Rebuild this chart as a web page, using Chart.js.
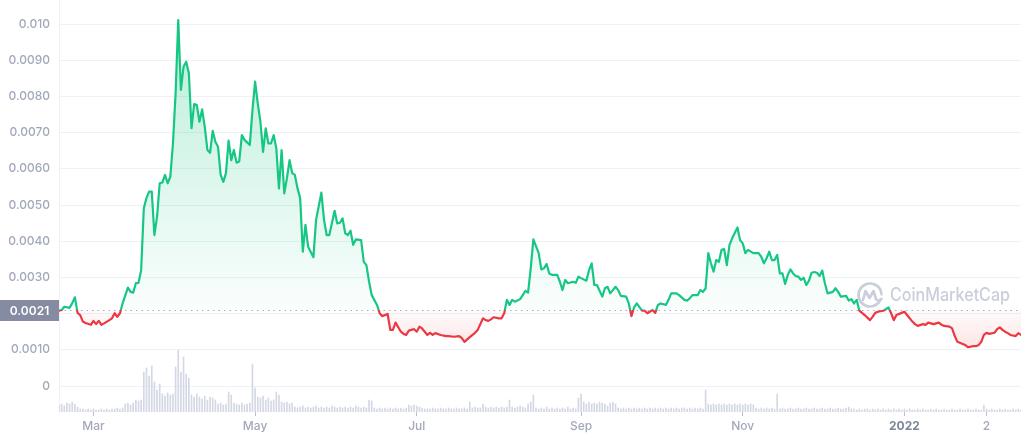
<!DOCTYPE html>
<html>
<head>
<meta charset="utf-8">
<script src="https://cdn.jsdelivr.net/npm/chart.js@4.4.0/dist/chart.umd.min.js"></script>
<style>
  html, body { margin: 0; padding: 0; background: #fff; }
  #wrap { width: 1021px; height: 440px; }
</style>
</head>
<body>
<div id="wrap"><canvas id="priceChart"></canvas></div>
<script>
// days counted from 2021-02-16
const days = [
  0, 1, 2, 4, 5, 6, 7, 8, 9, 10, 12, 13, 14, 15, 16, 17, 19, 20, 21, 22,
  23, 24, 26, 27, 28, 29, 30, 31, 32, 33, 34, 35, 36, 37, 38, 39, 40, 41, 42, 43,
  44, 45, 46, 47, 48, 49, 50, 51, 52, 53, 54, 55, 56, 57, 58, 59, 60, 61, 62, 63,
  64, 65, 66, 67, 68, 69, 70, 72, 73, 74, 75, 76, 77, 78, 79, 80, 81, 82, 83, 84,
  85, 86, 87, 88, 89, 90, 91, 92, 93, 94, 96, 97, 99, 100, 101, 102, 104, 105, 106, 107,
  108, 109, 110, 111, 112, 114, 115, 116, 117, 118, 120, 121, 122, 124, 125, 126, 127, 129, 130, 131,
  132, 134, 135, 136, 137, 139, 140, 141, 142, 144, 146, 147, 149, 151, 152, 153, 155, 157, 158, 160,
  161, 162, 163, 164, 166, 167, 168, 169, 170, 171, 172, 174, 175, 176, 177, 178, 179, 181, 182, 183,
  184, 185, 186, 188, 189, 190, 191, 192, 194, 195, 196, 197, 199, 200, 201, 202, 203, 205, 206, 207,
  208, 210, 211, 212, 214, 215, 216, 217, 218, 220, 221, 222, 224, 225, 226, 227, 229, 230, 231, 233,
  234, 236, 237, 238, 239, 241, 242, 243, 244, 245, 246, 247, 248, 249, 250, 251, 252, 253, 254, 256,
  257, 258, 259, 260, 262, 264, 265, 266, 267, 268, 269, 270, 271, 272, 273, 274, 275, 276, 277, 278,
  279, 280, 281, 282, 283, 284, 285, 286, 287, 288, 289, 290, 292, 293, 294, 295, 297, 298, 299, 300,
  301, 302, 303, 304, 306, 307, 308, 309, 311, 312, 313, 314, 315, 316, 318, 319, 320, 322, 323, 324,
  326, 327, 328, 330, 331, 332, 333, 334, 336, 337, 338, 339, 341, 342, 343, 345, 346, 347, 348, 349,
  350, 351, 353, 354, 355, 356, 357, 358, 359, 361, 362, 363
];

const prices = [
  0.00208, 0.00210, 0.00219, 0.00216, 0.00229, 0.00245, 0.00202, 0.00196, 0.00178, 0.00174, 0.00169, 0.00180, 0.00171, 0.00180, 0.00169, 0.00173, 0.00182, 0.00187, 0.00201, 0.00191,
  0.00201, 0.00228, 0.00272, 0.00260, 0.00258, 0.00284, 0.00285, 0.00320, 0.00491, 0.00519, 0.00537, 0.00537, 0.00417, 0.00468, 0.00560, 0.00562, 0.00583, 0.00560, 0.00578, 0.00670,
  0.00809, 0.01011, 0.00818, 0.00882, 0.00896, 0.00864, 0.00712, 0.00779, 0.00776, 0.00730, 0.00764, 0.00716, 0.00652, 0.00644, 0.00705, 0.00675, 0.00661, 0.00583, 0.00564, 0.00588,
  0.00678, 0.00624, 0.00652, 0.00617, 0.00620, 0.00693, 0.00680, 0.00666, 0.00762, 0.00841, 0.00781, 0.00730, 0.00647, 0.00712, 0.00670, 0.00670, 0.00693, 0.00657, 0.00546, 0.00652,
  0.00532, 0.00574, 0.00624, 0.00588, 0.00583, 0.00546, 0.00519, 0.00371, 0.00445, 0.00385, 0.00356, 0.00459, 0.00534, 0.00459, 0.00417, 0.00417, 0.00484, 0.00449, 0.00451, 0.00463,
  0.00422, 0.00417, 0.00429, 0.00390, 0.00405, 0.00403, 0.00343, 0.00334, 0.00288, 0.00251, 0.00224, 0.00201, 0.00193, 0.00199, 0.00155, 0.00155, 0.00175, 0.00150, 0.00144, 0.00141,
  0.00153, 0.00157, 0.00150, 0.00164, 0.00159, 0.00141, 0.00147, 0.00141, 0.00146, 0.00141, 0.00138, 0.00138, 0.00136, 0.00138, 0.00132, 0.00122, 0.00135, 0.00147, 0.00155, 0.00187,
  0.00182, 0.00180, 0.00184, 0.00190, 0.00187, 0.00187, 0.00201, 0.00238, 0.00224, 0.00238, 0.00233, 0.00240, 0.00251, 0.00263, 0.00258, 0.00325, 0.00405, 0.00367, 0.00322, 0.00325,
  0.00337, 0.00311, 0.00307, 0.00307, 0.00288, 0.00265, 0.00293, 0.00284, 0.00288, 0.00285, 0.00302, 0.00298, 0.00291, 0.00320, 0.00339, 0.00279, 0.00279, 0.00247, 0.00270, 0.00274,
  0.00256, 0.00274, 0.00265, 0.00249, 0.00247, 0.00228, 0.00193, 0.00217, 0.00228, 0.00208, 0.00208, 0.00201, 0.00210, 0.00202, 0.00224, 0.00228, 0.00224, 0.00238, 0.00256, 0.00256,
  0.00251, 0.00238, 0.00236, 0.00242, 0.00251, 0.00251, 0.00265, 0.00260, 0.00270, 0.00367, 0.00339, 0.00316, 0.00348, 0.00343, 0.00376, 0.00378, 0.00334, 0.00390, 0.00408, 0.00438,
  0.00403, 0.00394, 0.00367, 0.00376, 0.00367, 0.00367, 0.00357, 0.00339, 0.00353, 0.00371, 0.00348, 0.00348, 0.00362, 0.00311, 0.00311, 0.00282, 0.00307, 0.00322, 0.00311, 0.00304,
  0.00302, 0.00293, 0.00299, 0.00279, 0.00291, 0.00313, 0.00315, 0.00313, 0.00304, 0.00319, 0.00284, 0.00256, 0.00260, 0.00270, 0.00260, 0.00247, 0.00249, 0.00236, 0.00240, 0.00228,
  0.00238, 0.00208, 0.00202, 0.00196, 0.00182, 0.00191, 0.00202, 0.00205, 0.00208, 0.00212, 0.00217, 0.00201, 0.00182, 0.00196, 0.00202, 0.00205, 0.00196, 0.00178, 0.00171, 0.00166,
  0.00171, 0.00169, 0.00175, 0.00171, 0.00173, 0.00175, 0.00169, 0.00166, 0.00164, 0.00159, 0.00138, 0.00122, 0.00116, 0.00113, 0.00107, 0.00110, 0.00110, 0.00113, 0.00122, 0.00141,
  0.00147, 0.00144, 0.00147, 0.00157, 0.00162, 0.00155, 0.00150, 0.00146, 0.00141, 0.00138, 0.00146, 0.00141
];

// one volume bar per day, day 0 .. 363
const volumes = [
  7, 8, 6, 9, 8, 10, 8, 5, 3, 3,
  2, 3, 2, 3, 2, 2, 3, 2, 3, 2,
  3, 3, 4, 3, 4, 8, 9, 7, 9, 12,
  11, 12, 40, 44, 36, 46, 30, 22, 28, 18,
  16, 19, 17, 18, 45, 62, 40, 55, 38, 34,
  17, 15, 18, 15, 13, 16, 12, 15, 14, 12,
  8, 9, 7, 8, 20, 17, 9, 8, 7, 9,
  7, 8, 9, 48, 24, 15, 14, 16, 12, 14,
  11, 12, 20, 17, 10, 9, 10, 8, 9, 5,
  4, 5, 6, 4, 5, 4, 5, 6, 4, 5,
  4, 5, 4, 6, 5, 4, 5, 4, 5, 4,
  5, 4, 6, 5, 4, 5, 4, 12, 11, 4,
  3, 4, 3, 4, 3, 4, 3, 4, 3, 4,
  3, 4, 7, 6, 7, 6, 5, 4, 3, 3,
  3, 4, 3, 3, 4, 3, 3, 4, 3, 3,
  4, 3, 3, 4, 3, 10, 4, 5, 4, 4,
  8, 5, 4, 5, 4, 5, 4, 5, 4, 5,
  12, 5, 4, 5, 6, 5, 4, 8, 10, 17,
  4, 3, 4, 3, 5, 3, 4, 3, 4, 3,
  4, 3, 5, 3, 4, 3, 14, 18, 10, 8,
  10, 8, 9, 8, 10, 9, 8, 6, 9, 10,
  8, 4, 3, 4, 3, 4, 3, 4, 3, 4,
  3, 4, 3, 4, 3, 4, 3, 4, 3, 4,
  3, 4, 3, 4, 3, 4, 4, 3, 4, 3,
  4, 3, 4, 3, 22, 8, 7, 8, 7, 8,
  7, 8, 7, 8, 7, 8, 7, 8, 7, 8,
  7, 8, 7, 4, 3, 4, 3, 4, 3, 4,
  3, 18, 3, 4, 3, 3, 4, 3, 3, 4,
  3, 3, 4, 3, 3, 4, 3, 3, 4, 3,
  3, 4, 3, 3, 4, 3, 3, 4, 5, 3,
  3, 2, 3, 2, 3, 3, 2, 3, 2, 3,
  2, 3, 2, 3, 2, 3, 2, 3, 2, 3,
  2, 3, 2, 2, 3, 2, 3, 2, 2, 3,
  2, 3, 2, 2, 3, 2, 2, 3, 2, 2,
  3, 2, 2, 3, 2, 2, 3, 2, 2, 7,
  3, 2, 3, 2, 2, 3, 2, 3, 2, 2,
  3, 2, 3, 2
];

const tickDays = [13, 74, 135, 197, 258, 319, 350];
const tickLabels = ['Mar', 'May', 'Jul', 'Sep', 'Nov', '2022', '2'];
const priceTicks = [0, 0.001, 0.002, 0.003, 0.004, 0.005, 0.006, 0.007, 0.008, 0.009, 0.010];
const openPrice = 0.0021;
const openLabel = '0.0021';

const GREEN = '#16c784';
const RED = '#ea3943';

function splitLine(chart) {
  const area = chart.chartArea;
  if (!area) return GREEN;
  const y = chart.scales.y.getPixelForValue(openPrice);
  const r = Math.min(Math.max((y - area.top) / (area.bottom - area.top), 0), 1);
  const g = chart.ctx.createLinearGradient(0, area.top, 0, area.bottom);
  g.addColorStop(0, GREEN);
  g.addColorStop(r, GREEN);
  g.addColorStop(r, RED);
  g.addColorStop(1, RED);
  return g;
}

function upFill(chart) {
  const area = chart.chartArea;
  if (!area) return 'rgba(22,199,132,0.1)';
  const y = chart.scales.y.getPixelForValue(openPrice);
  const g = chart.ctx.createLinearGradient(0, area.top, 0, y);
  g.addColorStop(0, 'rgba(22,199,132,0.32)');
  g.addColorStop(1, 'rgba(22,199,132,0.02)');
  return g;
}

function downFill(chart) {
  const area = chart.chartArea;
  if (!area) return 'rgba(234,57,67,0.08)';
  const y = chart.scales.y.getPixelForValue(openPrice);
  const y2 = chart.scales.y.getPixelForValue(0.001);
  const g = chart.ctx.createLinearGradient(0, y, 0, y2);
  g.addColorStop(0, 'rgba(234,57,67,0.02)');
  g.addColorStop(1, 'rgba(234,57,67,0.14)');
  return g;
}

// dotted open-price line + CoinMarketCap watermark behind the line
const backdrop = {
  id: 'backdrop',
  beforeDatasetsDraw(chart) {
    const { ctx, chartArea } = chart;
    const y = Math.round(chart.scales.y.getPixelForValue(openPrice)) + 0.5;
    ctx.save();
    ctx.strokeStyle = '#a6afc2';
    ctx.lineWidth = 1;
    ctx.setLineDash([1.5, 4]);
    ctx.beginPath();
    ctx.moveTo(chartArea.left, y);
    ctx.lineTo(chartArea.right, y);
    ctx.stroke();
    ctx.setLineDash([]);

    // logo
    const cx = chartArea.right - 151, cy = 295, r = 11.5;
    ctx.strokeStyle = '#c8cedb';
    ctx.lineWidth = 2.6;
    ctx.lineCap = 'round';
    ctx.lineJoin = 'round';
    ctx.beginPath();
    ctx.arc(cx, cy, r, 0.12 * Math.PI, 1.98 * Math.PI);
    ctx.stroke();
    ctx.beginPath();
    ctx.moveTo(cx - 7, cy + 5);
    ctx.lineTo(cx - 4.5, cy - 4);
    ctx.lineTo(cx - 0.5, cy + 3);
    ctx.lineTo(cx + 3.5, cy - 4);
    ctx.lineTo(cx + 6, cy + 4);
    ctx.quadraticCurveTo(cx + 8, cy + 7, cx + 11.5, cy + 4);
    ctx.stroke();

    ctx.fillStyle = '#c8cedb';
    ctx.font = '500 18px Inter';
    ctx.textBaseline = 'middle';
    ctx.textAlign = 'left';
    const txt = 'CoinMarketCap';
    const w = ctx.measureText(txt).width;
    ctx.save();
    ctx.translate(cx + 20, cy + 1);
    ctx.scale(120 / w, 1);
    ctx.fillText(txt, 0, 0);
    ctx.restore();
    ctx.restore();
  },
  afterDraw(chart) {
    const { ctx, chartArea } = chart;
    const y = chart.scales.y.getPixelForValue(openPrice);
    ctx.save();
    ctx.fillStyle = '#858ca2';
    ctx.fillRect(0, Math.round(y) - 10, chartArea.left, 21);
    ctx.fillStyle = '#ffffff';
    ctx.font = '600 12px Inter';
    ctx.textAlign = 'center';
    ctx.textBaseline = 'middle';
    ctx.fillText(openLabel, chartArea.left / 2, Math.round(y) + 1);
    ctx.restore();
  }
};

Chart.defaults.font.family = 'Inter, "Noto Sans", sans-serif';
Chart.defaults.font.size = 12;

const ctx = document.getElementById('priceChart').getContext('2d');
new Chart(ctx, {
  data: {
    datasets: [
      {
        type: 'line',
        label: 'Price',
        data: days.map((d, i) => ({ x: d, y: prices[i] })),
        yAxisID: 'y',
        order: 0,
        borderWidth: 2.2,
        borderJoinStyle: 'round',
        borderCapStyle: 'round',
        pointRadius: 0,
        tension: 0,
        borderColor: c => splitLine(c.chart),
        fill: c => ({ target: { value: openPrice }, above: upFill(c.chart), below: downFill(c.chart) })
      },
      {
        type: 'bar',
        label: 'Volume',
        data: volumes.map((v, i) => ({ x: i, y: v })),
        yAxisID: 'yv',
        order: 1,
        backgroundColor: '#d3d8e4',
        barThickness: 1,
        borderWidth: 0
      }
    ]
  },
  options: {
    responsive: true,
    maintainAspectRatio: false,
    animation: false,
    layout: { padding: 0 },
    plugins: {
      legend: { display: false },
      tooltip: { enabled: false }
    },
    scales: {
      x: {
        type: 'linear',
        offset: false,
        min: 0,
        max: 363,
        afterBuildTicks: s => { s.ticks = tickDays.map(v => ({ value: v })); },
        afterFit: s => { s.height = 28; s.paddingLeft = 0; s.paddingRight = 0; },
        grid: { offset: false, drawOnChartArea: false, drawTicks: true, tickLength: 4, color: '#b8bfce' },
        border: { display: false },
        ticks: {
          autoSkip: false,
          maxRotation: 0,
          padding: 3,
          color: c => tickLabels[c.index] === '2022' ? '#7d869a' : '#a1a8ba',
          font: c => ({ size: 12, weight: tickLabels[c.index] === '2022' ? '700' : '500' }),
          callback: (v, i) => tickLabels[i]
        }
      },
      y: {
        position: 'left',
        min: -0.000718,
        max: 0.010663,
        afterBuildTicks: s => { s.ticks = priceTicks.map(v => ({ value: v })); },
        afterFit: s => { s.width = 59; s.paddingTop = 0; s.paddingBottom = 0; },
        grid: { color: '#eff2f5', drawTicks: false },
        border: { display: true, color: '#eff2f5' },
        ticks: {
          padding: 9,
          color: '#a1a8ba',
          font: { size: 12, weight: '500' },
          callback: v => {
            if (v === 0) return '0';
            if (Math.abs(v - 0.002) < 1e-9) return '';
            if (Math.abs(v - 0.01) < 1e-9) return '0.010';
            return v.toFixed(4);
          }
        }
      },
      yv: {
        display: false,
        min: 0,
        max: Math.max(...volumes) * 6.65
      }
    }
  },
  plugins: [backdrop]
});
</script>
</body>
</html>
